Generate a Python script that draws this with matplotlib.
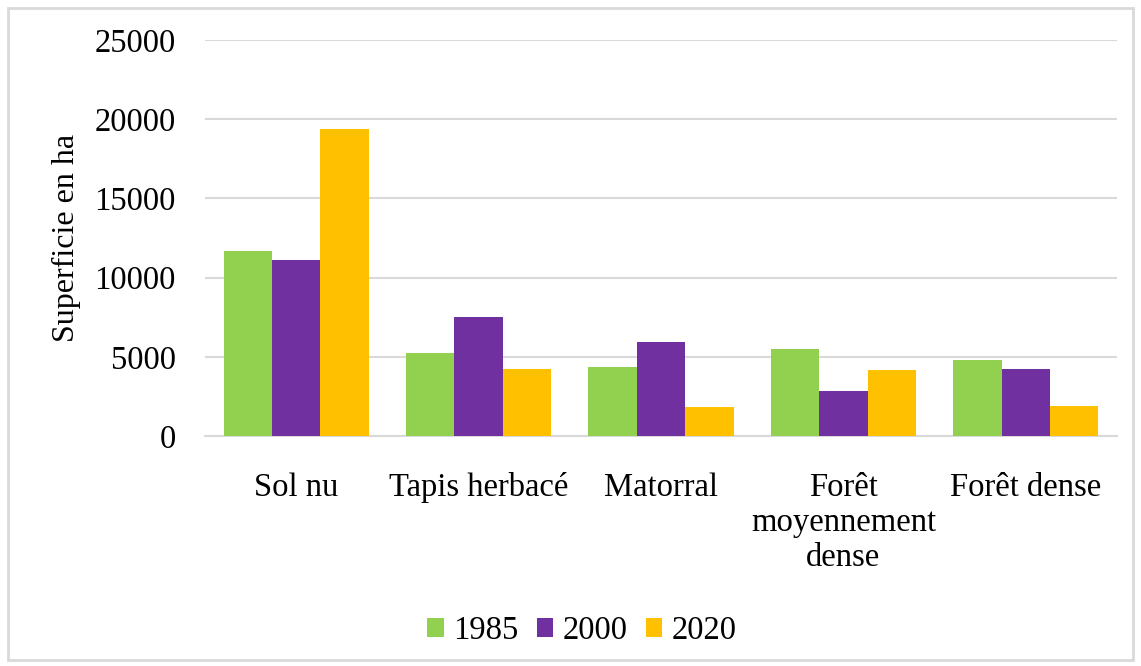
import matplotlib
matplotlib.use("Agg")
import matplotlib.pyplot as plt
from matplotlib.patches import Rectangle
import numpy as np

plt.rcParams['font.family'] = ['Liberation Serif', 'DejaVu Serif']

categories = ["Sol nu", "Tapis herbacé", "Matorral", "Forêt\nmoyennement\ndense", "Forêt dense"]
years = ["1985", "2000", "2020"]
surf_1985 = [11650, 5260, 4330, 5470, 4820]
surf_2000 = [11110, 7490, 5910, 2840, 4210]
surf_2020 = [19400, 4250, 1850, 4150, 1890]
colors = ["#92d050", "#7030a0", "#ffc000"]

fig = plt.figure(figsize=(11.41, 6.66), dpi=100)
ax = fig.add_axes([205 / 1141, 1 - 436 / 666, 912 / 1141, 396 / 666])

x = np.arange(len(categories))
w = 0.265
for i, (vals, yr) in enumerate(zip([surf_1985, surf_2000, surf_2020], years)):
    ax.bar(x + (i - 1) * w, vals, width=w, color=colors[i], label=yr, zorder=3)

ax.set_xlim(-0.5, len(categories) - 0.5)
ax.set_ylim(0, 25000)
ax.set_yticks(range(0, 25001, 5000))
ax.set_xticks(x)
ax.set_xticklabels(categories, fontsize=23.5, linespacing=1.2, va='top')
ax.tick_params(axis='y', labelsize=23.5, length=0, pad=21)
ax.tick_params(axis='x', length=0, pad=26)
ax.grid(axis='y', color='#d9d9d9', linewidth=1.5, zorder=0)
for s in ['top', 'right', 'left']:
    ax.spines[s].set_visible(False)
ax.spines['bottom'].set_color('#d9d9d9')
ax.spines['bottom'].set_linewidth(1.5)
ax.set_ylabel("Superficie en ha", fontsize=23, labelpad=10)

fig.legend(loc='center', bbox_to_anchor=(582 / 1141, 1 - 631 / 666), ncol=3,
           frameon=False, fontsize=23.5, handlelength=0.5, handleheight=0.5,
           handletextpad=0.3, columnspacing=0.55)

fig.patches.append(Rectangle((8 / 1141, 6 / 666), 1125 / 1141, 652 / 666,
                             transform=fig.transFigure, fill=False,
                             edgecolor='#d9d9d9', linewidth=2))

fig.savefig("out.png", dpi=100)
